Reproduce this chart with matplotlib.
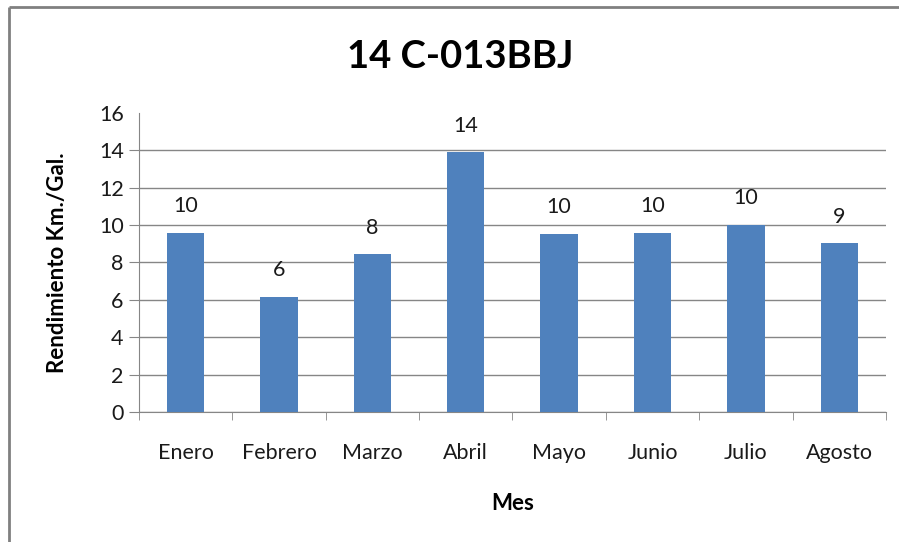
import matplotlib.pyplot as plt
from matplotlib.lines import Line2D
import numpy as np

# Rendimiento mensual del vehículo
meses = ["Enero", "Febrero", "Marzo", "Abril", "Mayo", "Junio", "Julio", "Agosto"]
rendimiento = [9.58, 6.16, 8.43, 13.9, 9.52, 9.58, 10.01, 9.02]
titulo = "14 C-013BBJ"

plt.rcParams["font.family"] = ["Lato", "DejaVu Sans"]

fig = plt.figure(figsize=(8.99, 5.42), dpi=100)
ax = fig.add_axes([0.1546, 0.2399, 0.8309, 0.5516])

x = np.arange(len(meses))
bars = ax.bar(x, rendimiento, width=0.4, color="#4F81BD", zorder=3)

for b, v in zip(bars, rendimiento):
    ax.annotate(f"{round(v):d}", (b.get_x() + b.get_width() / 2, v),
                xytext=(0, 12), textcoords="offset points",
                ha="center", va="bottom", fontsize=15.5, color="#1a1a1a")

ax.set_xlim(-0.5, len(meses) - 0.5)
ax.set_ylim(0, 16)
ax.set_yticks(range(0, 17, 2))
ax.set_xticks(x)
ax.set_xticklabels(meses)
ax.set_xticks(np.arange(-0.5, len(meses), 1), minor=True)

ax.tick_params(axis="x", which="major", length=0, pad=22, labelsize=15.5,
               labelcolor="#1a1a1a")
ax.tick_params(axis="x", which="minor", length=6, color="#868686")
ax.tick_params(axis="y", length=7, color="#868686", labelsize=15.5,
               labelcolor="#1a1a1a", pad=4)

ax.yaxis.grid(True, color="#868686", linewidth=1.0, zorder=0)
ax.set_axisbelow(True)
# sin línea de cuadrícula en el máximo
ax.yaxis.get_gridlines()[-1].set_visible(False)
ax.yaxis.get_major_ticks()[-1].tick1line.set_visible(False)

for s in ["top", "right"]:
    ax.spines[s].set_visible(False)
for s in ["left", "bottom"]:
    ax.spines[s].set_color("#868686")

ax.set_ylabel("Rendimiento Km./Gal.", fontsize=16, fontweight="bold", labelpad=22)
ax.set_xlabel("Mes", fontsize=16, fontweight="bold", labelpad=22)
fig.text(0.512, 0.895, titulo, ha="center", va="center", fontsize=27.5,
         fontweight="bold")

# marco exterior del gráfico
fig.add_artist(Line2D([0.01, 1.02], [0.987, 0.987], color="#808080", linewidth=2,
                      solid_capstyle="butt"))
fig.add_artist(Line2D([0.01, 0.01], [-0.02, 0.987], color="#808080", linewidth=2,
                      solid_capstyle="butt"))

fig.savefig("out.png", dpi=100)
